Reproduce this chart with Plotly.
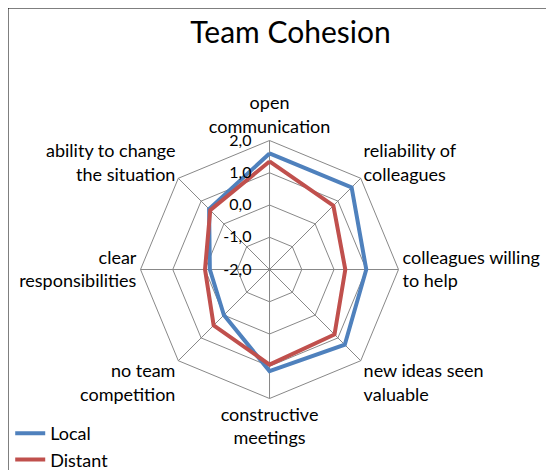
import plotly.graph_objects as go

# axes, clockwise from the top
categories = [
    "open<br>communication",
    "reliability of<br>colleagues",
    "colleagues willing<br>to help",
    "new ideas seen<br>valuable",
    "constructive<br>meetings",
    "no team<br>competition",
    "clear<br>responsibilities",
    "ability to change<br>the situation",
]
local = [1.6, 1.6, 1.0, 1.3, 1.15, 0.0, -0.15, 0.65]
distant = [1.35, 0.8, 0.35, 0.85, 0.95, 0.45, 0.0, 0.6]
r_ticks = [-2, -1, 0, 1, 2]
r_labels = ["-2,0", "-1,0", "0,0", "1,0", "2,0"]

FONT = "Lato"


def closed(v):
    return v + v[:1]


fig = go.Figure()
fig.add_trace(go.Scatterpolar(
    r=closed(local), theta=closed(categories), mode="lines", name="Local",
    line=dict(color="#4F81BD", width=4),
))
fig.add_trace(go.Scatterpolar(
    r=closed(distant), theta=closed(categories), mode="lines", name="Distant",
    line=dict(color="#C0504D", width=4),
))

fig.update_layout(
    width=554, height=470,
    margin=dict(l=0, r=0, t=0, b=0),
    paper_bgcolor="white",
    font=dict(family=FONT, size=17, color="black"),
    title=dict(text="Team Cohesion", x=0.51, xanchor="center", y=0.97, yanchor="top",
               font=dict(family=FONT, size=30, color="black")),
    polar=dict(
        domain=dict(x=[0.2392, 0.7049], y=[0.1691, 0.7181]),
        bgcolor="white",
        gridshape="linear",
        radialaxis=dict(
            range=[-2, 2], tickvals=r_ticks, ticktext=r_labels,
            angle=90, tickangle=90, side="counterclockwise",
            showline=False, gridcolor="#888888", gridwidth=1,
            ticks="outside", ticklen=12, tickcolor="rgba(0,0,0,0)",
            tickfont=dict(size=16),
        ),
        angularaxis=dict(
            type="category", categoryarray=categories,
            direction="clockwise", rotation=90,
            showline=True, linecolor="#888888", linewidth=1,
            gridcolor="#888888", gridwidth=1, ticks="",
            tickfont=dict(size=18),
        ),
    ),
    legend=dict(x=0.004, y=0.0, xanchor="left", yanchor="bottom",
                font=dict(size=18), bgcolor="rgba(0,0,0,0)"),
    shapes=[dict(type="rect", xref="paper", yref="paper", x0=0, y0=0, x1=1, y1=1,
                 line=dict(color="black", width=1))],
)

fig.write_html("out.html")
